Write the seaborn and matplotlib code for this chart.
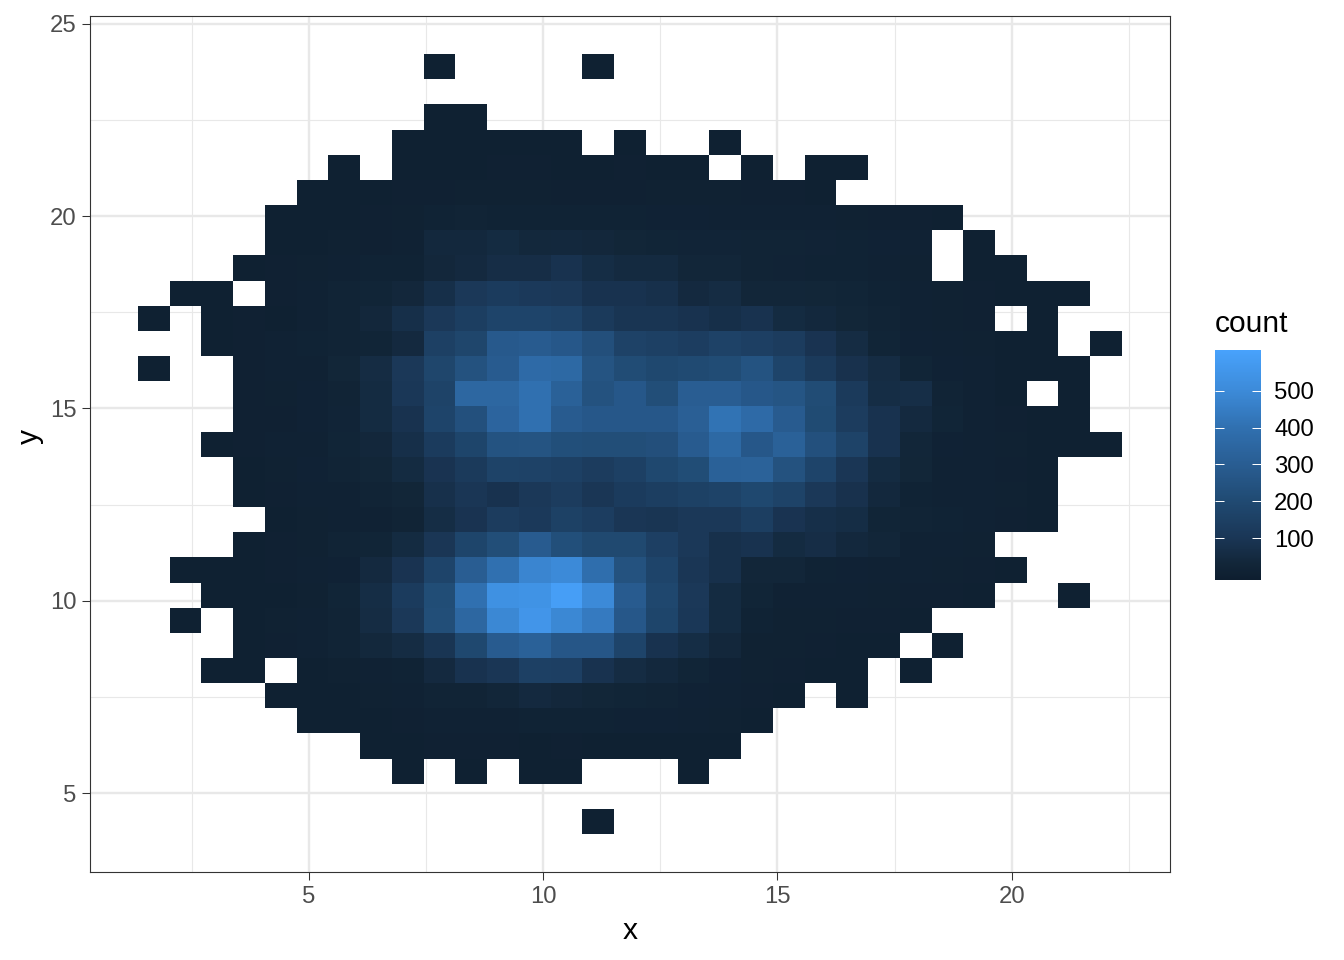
import numpy as np
import pandas as pd
import matplotlib
matplotlib.use("Agg")
import matplotlib.pyplot as plt
from matplotlib.colors import LinearSegmentedColormap
import seaborn as sns

# counts per cell, one row per y bin from top to bottom, 31 x bins
counts = [
    [0,0,0,0,0,0,0,0,0,1,0,0,0,0,1,0,0,0,0,0,0,0,0,0,0,0,0,0,0,0,0],
    [0,0,0,0,0,0,0,0,0,0,0,0,0,0,0,0,0,0,0,0,0,0,0,0,0,0,0,0,0,0,0],
    [0,0,0,0,0,0,0,0,0,1,1,0,0,0,0,0,0,0,0,0,0,0,0,0,0,0,0,0,0,0,0],
    [0,0,0,0,0,0,0,0,1,2,2,3,3,2,0,1,0,0,1,0,0,0,0,0,0,0,0,0,0,0,0],
    [0,0,0,0,0,0,1,0,2,2,3,4,4,3,3,4,2,2,0,3,0,1,1,0,0,0,0,0,0,0,0],
    [0,0,0,0,0,1,1,2,4,5,7,6,6,5,5,5,6,6,6,4,4,2,0,0,0,0,0,0,0,0,0],
    [0,0,0,0,1,2,3,4,6,14,18,14,14,14,14,15,12,12,10,10,10,8,7,5,5,2,0,0,0,0,0],
    [0,0,0,0,1,2,6,5,10,40,40,50,38,40,35,28,25,22,22,18,18,16,15,12,8,0,1,0,0,0,0],
    [0,0,0,1,4,7,10,15,15,35,45,62,62,85,60,48,48,30,30,18,16,15,14,10,6,0,1,1,0,0,0],
    [0,1,1,0,4,8,20,25,35,70,110,125,115,110,85,85,75,45,55,30,32,28,25,15,10,6,4,2,1,1,0],
    [1,0,1,4,2,8,20,35,70,110,140,170,170,160,120,95,95,85,70,85,50,40,28,18,10,6,5,0,1,0,0],
    [0,0,1,5,8,15,20,25,45,150,180,280,290,270,230,160,150,135,160,145,130,90,55,25,12,8,6,3,1,0,1],
    [1,0,0,4,8,10,28,55,110,180,240,290,370,360,250,210,190,200,210,245,170,120,80,55,25,12,8,2,1,1,0],
    [0,0,0,4,6,12,20,50,105,165,350,350,400,320,240,270,220,300,300,270,255,210,120,60,65,18,8,3,0,1,0],
    [0,0,0,4,5,12,22,50,85,170,235,340,400,290,270,270,270,310,410,370,290,205,130,85,45,25,10,5,2,1,0],
    [0,0,1,5,8,9,25,35,70,125,175,245,250,225,220,220,230,290,360,270,320,235,165,85,30,12,8,6,3,2,1],
    [0,0,0,1,7,12,20,28,50,90,120,165,160,150,130,150,190,215,320,325,240,170,100,50,28,10,8,5,3,0,0],
    [0,0,0,3,5,8,8,20,28,75,100,85,110,130,100,125,140,155,165,190,165,110,80,40,15,10,8,6,3,0,0],
    [0,0,0,0,3,6,8,8,20,60,90,130,115,155,135,100,95,110,110,140,90,70,60,25,18,15,10,5,2,0,0],
    [0,0,0,1,4,6,18,25,50,100,175,220,290,225,195,195,145,110,75,85,50,62,40,32,10,8,6,0,0,0,0],
    [0,1,2,3,4,8,12,45,90,170,300,400,480,500,390,240,170,100,75,30,30,15,12,8,8,6,5,1,0,0,0],
    [0,0,1,1,3,6,25,60,125,215,400,530,540,590,500,290,185,110,50,25,8,10,8,6,5,4,3,0,0,1,0],
    [0,1,0,2,6,9,20,55,110,220,350,490,550,490,440,270,175,105,50,15,7,6,4,4,1,0,0,0,0,0,0],
    [0,0,0,1,5,10,18,38,55,95,190,290,320,265,265,170,85,60,35,6,6,4,3,2,0,1,0,0,0,0,0],
    [0,0,1,1,0,3,7,10,15,45,85,100,150,145,85,55,40,25,12,6,5,2,3,0,1,0,0,0,0,0,0],
    [0,0,0,0,1,3,3,6,10,18,20,30,45,35,28,25,20,12,10,4,1,0,1,0,0,0,0,0,0,0,0],
    [0,0,0,0,0,1,1,2,4,10,10,10,15,15,15,12,12,8,6,1,0,0,0,0,0,0,0,0,0,0,0],
    [0,0,0,0,0,0,0,1,2,4,4,4,3,5,3,2,3,3,1,0,0,0,0,0,0,0,0,0,0,0,0],
    [0,0,0,0,0,0,0,0,1,0,1,0,1,1,0,0,0,1,0,0,0,0,0,0,0,0,0,0,0,0,0],
    [0,0,0,0,0,0,0,0,0,0,0,0,0,0,0,0,0,0,0,0,0,0,0,0,0,0,0,0,0,0,0],
    [0,0,0,0,0,0,0,0,0,0,0,0,0,0,1,0,0,0,0,0,0,0,0,0,0,0,0,0,0,0,0],
]
major_ticks_x = [5, 10, 15, 20]
major_ticks_y = [5, 10, 15, 20, 25]
minor_ticks_x = [2.5, 7.5, 12.5, 17.5, 22.5]
minor_ticks_y = [7.5, 12.5, 17.5, 22.5]
legend_ticks = [100, 200, 300, 400, 500]

x_edges = np.linspace(1.35, 22.354, 32)
y_edges = np.linspace(3.935, 24.208, 32)
x_mid = (x_edges[:-1] + x_edges[1:]) / 2
y_mid = ((y_edges[:-1] + y_edges[1:]) / 2)[::-1]

xx, yy = np.meshgrid(x_mid, y_mid)
df = pd.DataFrame({"x": xx.ravel(), "y": yy.ravel(), "count": np.array(counts).ravel()})

sns.set_theme(style="white")
plt.rcParams["font.family"] = ["Liberation Sans", "DejaVu Sans"]

W, H = 1344, 960
fig = plt.figure(figsize=(W / 200, H / 200), dpi=200)
ax = fig.add_axes([90 / W, 1 - 872 / H, 1080 / W, 856 / H])
cax = fig.add_axes([1215 / W, 1 - 580 / H, 46 / W, 230 / H])

vmin, vmax = -14, 611
def frac(v):
    return (v - vmin) / (vmax - vmin)
cmap = LinearSegmentedColormap.from_list("count", [
    (0, "#0E1E2F"), (frac(30), "#122639"), (frac(100), "#1A3656"), (frac(200), "#204A72"),
    (frac(300), "#295D92"), (frac(400), "#3070B0"), (frac(500), "#3C8AD8"), (1, "#48A2FC"),
])

sns.histplot(data=df, x="x", y="y", weights="count", bins=31,
             binrange=((x_edges[0], x_edges[-1]), (y_edges[0], y_edges[-1])),
             cmap=cmap, vmin=vmin, vmax=vmax, cbar=True, cbar_ax=cax, ax=ax)

ax.set_xlim(0.325, 23.38)
ax.set_ylim(2.95, 25.2)
ax.set_xticks(major_ticks_x)
ax.set_yticks(major_ticks_y)
ax.set_xticks(minor_ticks_x, minor=True)
ax.set_yticks(minor_ticks_y, minor=True)
ax.set_axisbelow(True)
ax.grid(True, which="major", color="#E8E8E8", linewidth=0.85)
ax.grid(True, which="minor", color="#E8E8E8", linewidth=0.42)
ax.tick_params(which="major", length=2.75, width=0.38, color="#333333",
               labelcolor="#4D4D4D", labelsize=8.6, pad=2.2,
               bottom=True, left=True)
ax.tick_params(which="minor", length=0)
for s in ax.spines.values():
    s.set_visible(True)
    s.set_color("#333333")
    s.set_linewidth(0.4)
ax.set_xlabel("")
ax.set_ylabel("")

fig.text(630 / W, 1 - 931 / H, "x", fontsize=10.8, ha="center", va="center", color="black")
fig.text(30 / W, 1 - 437 / H, "y", fontsize=10.8, ha="center", va="center", rotation=90, color="black")

# colour bar
cax.set_axisbelow(False)
cax.yaxis.set_ticks_position("right")
cax.set_yticks(legend_ticks)
cax.set_yticklabels([str(t) for t in legend_ticks])
cax.tick_params(axis="y", which="major", direction="in", length=3.2, width=0.36,
                color="white", left=True, right=True, labelsize=8.6,
                labelcolor="black", pad=19)
cax.tick_params(axis="y", which="minor", length=0)
cax.yaxis.set_tick_params(labelright=True, labelleft=False)
for s in cax.spines.values():
    s.set_visible(False)
for lab in cax.get_yticklabels():
    lab.set_ha("right")
fig.text(1215 / W, 1 - 324 / H, "count", fontsize=10.8, ha="left", va="center", color="black")

fig.savefig("out.png", dpi=200)
